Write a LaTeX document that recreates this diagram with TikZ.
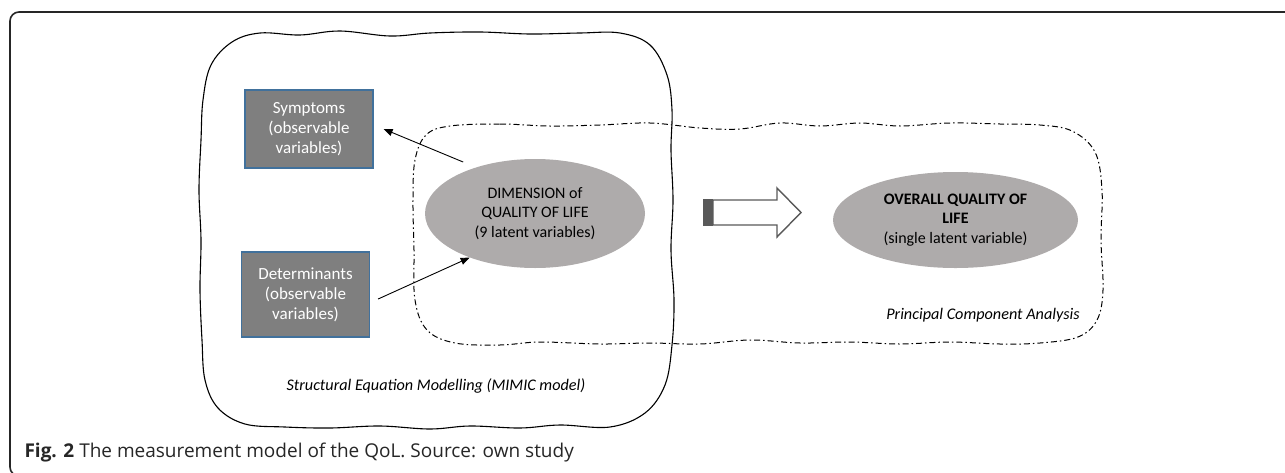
\documentclass[tikz,border=0pt]{standalone}
\usepackage{fontspec}
\setmainfont{Carlito}
\newfontfamily\capfont{Open Sans}
\usetikzlibrary{arrows.meta,shapes.geometric}

\definecolor{boxgray}{HTML}{7F7F7F}
\definecolor{boxblue}{HTML}{41719C}
\definecolor{ellgray}{HTML}{AEABAB}
\definecolor{arrgray}{HTML}{595959}

\tikzstyle{obs}=[shape=rectangle,draw=boxblue,fill=boxgray,line width=1.2pt,text=white,align=center,minimum width=128pt,font=\fontsize{17}{20}\selectfont]
\tikzstyle{latent}=[shape=ellipse,fill=ellgray,align=center,inner sep=0pt,font=\fontsize{16}{19.5}\selectfont]
\tikzstyle{load}=[-{Triangle[length=9pt,width=7pt]},line width=0.9pt]
\tikzstyle{lbl}=[font=\fontsize{16.2}{18}\selectfont\itshape]
\tikzstyle{dashdotline}=[line width=1pt,dash pattern=on 6pt off 3pt on 1.5pt off 3pt]

\begin{document}
\begin{tikzpicture}[x=1pt,y=-1pt]
\useasboundingbox (0,0) rectangle (1285,472);
% frame of the figure
\draw[line width=1.6pt,rounded corners=9pt,black!85] (1300,12) -- (10,12) -- (10,476) -- (40,476);

% SEM region (hand drawn)
\draw[line width=1.1pt] plot[smooth cycle,tension=0.6] coordinates {
  (260,33) (300,35) (340,31) (390,36) (430,33) (480,32) (530,34) (580,33) (620,33)
  (650,45) (667,75) (672,110) (671,150) (673,200) (671,250) (674,300) (672,345)
  (665,385) (645,413) (610,427) (560,425) (520,428) (470,426) (430,429) (380,426)
  (330,428) (285,427) (245,424) (218,408) (205,380) (202,340) (200,290) (201,240)
  (199,190) (201,140) (203,100) (211,65) (232,42)};

% PCA region
\draw[dashdotline] plot[smooth cycle,tension=0.6] coordinates {
  (450,126) (500,124) (550,126) (600,125) (650,123) (700,128) (740,129) (780,123)
  (820,126) (860,123) (900,126) (950,123) (1000,124) (1040,125) (1072,131)
  (1095,152) (1102,190) (1101,240) (1103,290) (1097,320) (1078,337) (1040,343)
  (1000,344) (950,342) (900,344) (850,342) (800,343) (750,340) (700,344) (650,343)
  (600,344) (540,342) (500,345) (455,343) (427,330) (415,300) (414,250) (413,200)
  (415,160) (426,135)};

% observable variables
\node[obs,minimum height=78pt] (symp) at (309,129) {Symptoms\\(observable\\variables)};
\node[obs,minimum height=85pt] (det) at (305.5,294.5) {Determinants\\(observable\\variables)};

% latent variables
\node[latent,minimum width=220pt,minimum height=109pt] (dim) at (535,213.5)
  {DIMENSION of\\QUALITY OF LIFE\\(9 latent variables)};
\node[latent,minimum width=245pt,minimum height=96pt] (oql) at (955.5,220)
  {\textbf{OVERALL QUALITY OF}\\\textbf{LIFE}\\(single latent variable)};

\draw[load] ([yshift=10pt]dim.150) -- ([xshift=10pt]symp.east);
\draw[load] ([xshift=8pt]det.-4) -- (dim.214);

% block arrow
\filldraw[draw=arrgray,fill=white,line width=1.4pt] (713,200) -- (777,200) -- (777,188)
  -- (801,212.5) -- (777,237) -- (777,225) -- (713,225) -- cycle;
\fill[arrgray] (703,199.3) rectangle (713,225.7);

% labels
\node[lbl] (sem) at (436,386) {Structural Equation Modelling (MIMIC model)};
\node[lbl] (pca) at (983,315) {Principal Component Analysis};
\node[anchor=west,font=\capfont\fontsize{19}{22}\selectfont,text=black!85] (cap) at (21,453)
  {\textbf{Fig. 2} The measurement model of the QoL. Source: own study};
\end{tikzpicture}
\end{document}
